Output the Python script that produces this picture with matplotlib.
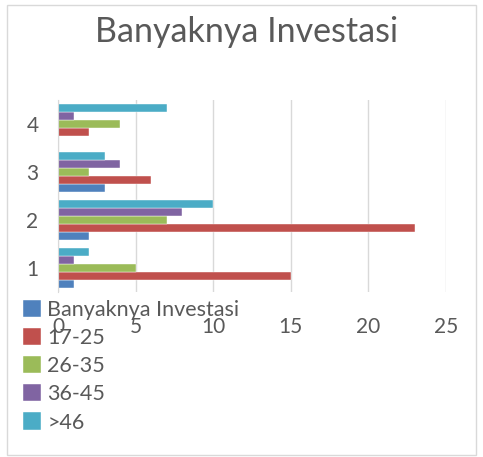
import matplotlib.pyplot as plt
from matplotlib.patches import Rectangle
import numpy as np

plt.rcParams['font.family'] = ['Lato', 'DejaVu Sans']

categories = ['1', '2', '3', '4']
series_names = ['Banyaknya Investasi', '17-25', '26-35', '36-45', '>46']
banyaknya = [1, 2, 3, 0]
usia_17_25 = [15, 23, 6, 2]
usia_26_35 = [5, 7, 2, 4]
usia_36_45 = [1, 8, 4, 1]
usia_46 = [2, 10, 3, 7]
colors = ['#4F81BD', '#C0504D', '#9BBB59', '#8064A2', '#4BACC6']

fig = plt.figure(figsize=(4.83, 4.57), dpi=100)
ax = fig.add_axes([58/483, 1-292/457, (446-58)/483, 192/457])

y = np.arange(1, len(categories) + 1)
h = 0.165
all_series = [banyaknya, usia_17_25, usia_26_35, usia_36_45, usia_46]
for i, (vals, name) in enumerate(zip(all_series, series_names)):
    ax.barh(y + (i - 2) * h, vals, height=h, color=colors[i], label=name,
            edgecolor='white', linewidth=0.3)

ax.set_xlim(0, 25)
ax.set_ylim(0.5, 4.5)
ax.set_yticks(y)
ax.set_yticklabels(categories)
ax.set_xticks([0, 5, 10, 15, 20, 25])
ax.xaxis.grid(True, color='#D9D9D9', linewidth=1)
ax.set_axisbelow(True)
for s in ['top', 'right', 'bottom']:
    ax.spines[s].set_visible(False)
ax.spines['left'].set_color('#D9D9D9')
ax.tick_params(axis='both', length=0, labelsize=15, colors='#595959')
ax.tick_params(axis='x', pad=18)
ax.tick_params(axis='y', pad=14)

fig.text(247/483, 1-32/457, 'Banyaknya Investasi', ha='center', va='center',
         fontsize=24.5, color='#595959')

fig.legend(loc='upper left', bbox_to_anchor=(14/483, 1-291/457), frameon=False,
           fontsize=15.5, labelcolor='#595959', handlelength=0.85, handleheight=0.85,
           handletextpad=0.3, labelspacing=0.38, borderaxespad=0)

fig.patches.append(Rectangle((7/483, 2/457), 469/483, 450/457, transform=fig.transFigure,
                             fill=False, edgecolor='#D9D9D9', linewidth=1))

fig.savefig('out.png', dpi=100)
